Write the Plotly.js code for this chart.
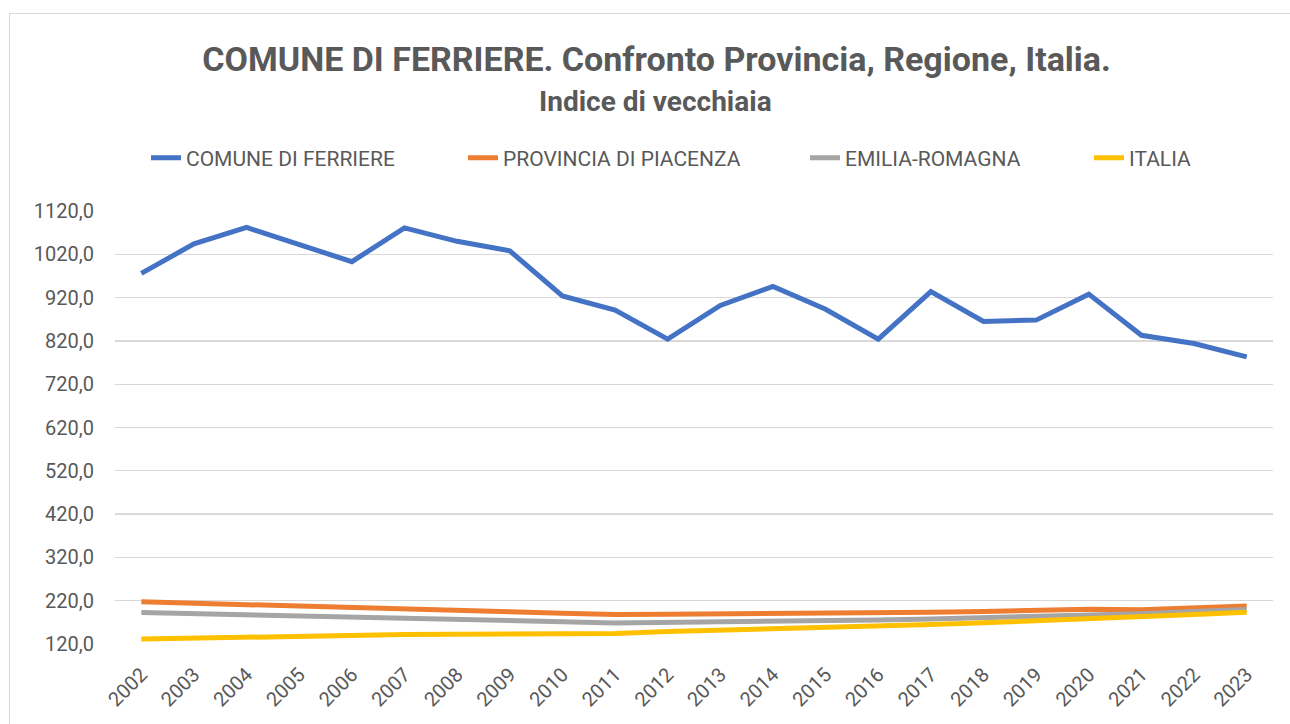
<!DOCTYPE html>
<html>
<head>
<meta charset="utf-8">
<script src="https://cdn.plot.ly/plotly-3.0.1.min.js"></script>
<style>
  html, body { margin: 0; padding: 0; background: #ffffff; overflow: hidden; }
  #frame { position: absolute; left: 9px; top: 13px; width: 1300px; height: 740px; border: 1px solid #d9d9d9; box-sizing: border-box; pointer-events: none; z-index: 2; }
  #chart { position: absolute; left: 0; top: 0; width: 1290px; height: 724px; }
</style>
</head>
<body>
<div id="chart"></div>
<div id="frame"></div>
<script>
const years = ["2002","2003","2004","2005","2006","2007","2008","2009","2010","2011","2012","2013","2014","2015","2016","2017","2018","2019","2020","2021","2022","2023"];
const seriesNames = ["COMUNE DI FERRIERE", "PROVINCIA DI PIACENZA", "EMILIA-ROMAGNA", "ITALIA"];
const ferriere = [976, 1044, 1082, 1042, 1003, 1081, 1050, 1028, 924, 891, 824, 902, 946, 893, 824, 934, 865, 868, 928, 833, 814, 783];
const piacenza = [217.5, 214.5, 211.5, 208, 205.5, 203, 199.5, 194.5, 191, 188, 188.5, 189, 190, 191.5, 192.5, 193.5, 195, 197.5, 200, 199, 203, 208];
const emilia = [192.5, 190, 188, 185.7, 183.6, 181.6, 178.6, 174.8, 171.4, 168.6, 169.5, 170.2, 171.5, 173.1, 175.4, 177.7, 180.4, 182.7, 186.4, 190.1, 195, 199.5];
const italia = [131.4, 133.8, 135.9, 137.8, 139.9, 141.7, 142.8, 143.4, 144.0, 144.5, 148.6, 151.4, 154.1, 157.7, 161.4, 165.3, 168.9, 173.1, 179.4, 182.6, 187.9, 193.3];
const yTickVals = [120, 220, 320, 420, 520, 620, 720, 820, 920, 1020, 1120];
const yTickText = ["120,0", "220,0", "320,0", "420,0", "520,0", "620,0", "720,0", "820,0", "920,0", "1020,0", "1120,0"];
const titleText = "COMUNE DI FERRIERE. Confronto Provincia, Regione, Italia.";
const subtitleText = "Indice di vecchiaia";

const colors = ["#4472C4", "#ED7D31", "#A5A5A5", "#FFC000"];
const allSeries = [ferriere, piacenza, emilia, italia];
const legendIds = ["legend", "legend2", "legend3", "legend4"];
const legendLeftPx = [146, 463, 805, 1089];
const FONT = "Roboto, 'Liberation Sans', Arial, sans-serif";
const TXT = "#595959";

const traces = allSeries.map((vals, i) => ({
  type: "scatter",
  mode: "lines",
  x: years,
  y: vals,
  name: seriesNames[i],
  legend: legendIds[i],
  line: { color: colors[i], width: 5 },
  hoverinfo: "skip"
}));

const layout = {
  width: 1290,
  height: 724,
  paper_bgcolor: "#ffffff",
  plot_bgcolor: "#ffffff",
  margin: { l: 115, r: 17, t: 211, b: 80, pad: 0 },
  font: { family: FONT, color: TXT },
  title: {
    text: "<b>" + titleText + "</b>",
    font: { family: FONT, size: 34, color: TXT },
    x: 0.509, xref: "container", xanchor: "center",
    y: 1 - 59 / 724, yref: "container", yanchor: "middle"
  },
  annotations: [{
    text: "<b>" + subtitleText + "</b>",
    xref: "paper", yref: "paper",
    x: (655 - 115) / 1157, y: (644 - 101) / 433,
    xanchor: "center", yanchor: "middle",
    showarrow: false,
    font: { family: FONT, size: 28, color: TXT }
  }],
  showlegend: true,
  xaxis: {
    type: "category",
    range: [-0.5, years.length - 0.5],
    showgrid: false,
    zeroline: false,
    showline: false,
    ticks: "",
    tickangle: -45,
    tickfont: { family: FONT, size: 20, color: TXT },
    ticklabelstandoff: 14,
    fixedrange: true
  },
  yaxis: {
    range: [120, 1120],
    tickvals: yTickVals,
    ticktext: yTickText,
    showgrid: true,
    gridcolor: "#d9d9d9",
    gridwidth: 1.3,
    zeroline: false,
    showline: false,
    ticks: "",
    tickfont: { family: FONT, size: 20, color: TXT },
    ticklabelstandoff: 20,
    fixedrange: true
  }
};

legendIds.forEach((id, i) => {
  layout[id] = {
    orientation: "h",
    xref: "container", yref: "container",
    x: legendLeftPx[i] / 1290, xanchor: "left",
    y: 1 - 158 / 724, yanchor: "middle",
    font: { family: FONT, size: 21, color: TXT },
    bgcolor: "rgba(0,0,0,0)",
    itemclick: false, itemdoubleclick: false
  };
});

Plotly.newPlot("chart", traces, layout, { displayModeBar: false, staticPlot: true });
</script>
</body>
</html>
